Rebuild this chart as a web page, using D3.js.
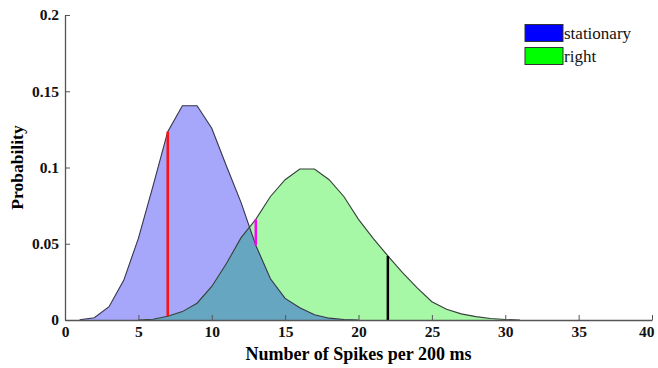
<!DOCTYPE html>
<html>
<head>
<meta charset="utf-8">
<script src="https://cdn.jsdelivr.net/npm/d3@7"></script>
<style>
  body { margin: 0; background: #fff; }
  text { font-family: "Liberation Serif", "Times New Roman", serif; }
</style>
</head>
<body>
<div id="chart"></div>
<script>
// spike counts and probabilities
const stationaryX = [1, 2, 3, 4, 5, 6, 7, 8, 9, 10, 11, 12, 13, 14, 15, 16, 17, 18, 19, 20];
const stationaryP = [0.0002, 0.0015, 0.0087, 0.026, 0.0535, 0.088, 0.1235, 0.1405, 0.1405, 0.1257,
                     0.101, 0.077, 0.049, 0.027, 0.0142, 0.008, 0.0035, 0.0012, 0.0003, 0];
const rightX = [5, 6, 7, 8, 9, 10, 11, 12, 13, 14, 15, 16, 17, 18, 19, 20, 21, 22, 23, 24, 25, 26, 27, 28, 29, 30, 31];
const rightP = [0, 0.0005, 0.0025, 0.0055, 0.011, 0.022, 0.037, 0.054, 0.066, 0.081, 0.092, 0.099, 0.099,
                0.092, 0.081, 0.066, 0.0535, 0.042, 0.031, 0.021, 0.012, 0.007, 0.004, 0.0022, 0.001, 0.0003, 0];
const thresholds = [7, 13, 22];
const thresholdColors = ["#ff1010", "#ff00ff", "#000000"];
const xTicks = [0, 5, 10, 15, 20, 25, 30, 35, 40];
const yTicks = [0, 0.05, 0.1, 0.15, 0.2];
const yTickLabels = ["0", "0.05", "0.1", "0.15", "0.2"];
const legendLabels = ["stationary", "right"];
const legendColors = ["#0000ff", "#00ff00"];

const width = 658, height = 368;

const svg = d3.select("#chart")
  .append("svg")
  .attr("width", width)
  .attr("height", height);

const x = d3.scaleLinear().domain([0, 40]).range([65, 652]);
const y = d3.scaleLinear().domain([0, 0.2]).range([320, 15]);

const stationary = stationaryX.map((k, i) => ({ k: k, p: stationaryP[i] }));
const right = rightX.map((k, i) => ({ k: k, p: rightP[i] }));

const area = d3.area()
  .x(d => x(d.k))
  .y0(y(0))
  .y1(d => y(d.p));
const line = d3.line()
  .x(d => x(d.k))
  .y(d => y(d.p));

// clip to the stationary area so the overlap can get its own colour
svg.append("clipPath")
  .attr("id", "statClip")
  .append("path")
  .attr("d", area(stationary));

svg.append("path").attr("d", area(stationary)).attr("fill", "#a6a6fa");
svg.append("path").attr("d", area(right)).attr("fill", "#a6f7a6");
svg.append("path").attr("d", area(right)).attr("fill", "#67a6c0")
  .attr("clip-path", "url(#statClip)");

svg.append("path").attr("d", line(stationary))
  .attr("fill", "none").attr("stroke", "#35354a").attr("stroke-width", 1.1);
svg.append("path").attr("d", line(right))
  .attr("fill", "none").attr("stroke", "#35403a").attr("stroke-width", 1.1);

// threshold lines: from the lower curve up to the upper curve
const valueAt = (data, k) => {
  const d = data.find(e => e.k === k);
  return d ? d.p : 0;
};
thresholds.forEach((t, i) => {
  const a = valueAt(stationary, t), b = valueAt(right, t);
  svg.append("line")
    .attr("x1", x(t)).attr("x2", x(t))
    .attr("y1", y(Math.min(a, b))).attr("y2", y(Math.max(a, b)))
    .attr("stroke", thresholdColors[i])
    .attr("stroke-width", 2.5);
});

// axes
const xAxis = svg.append("g")
  .attr("transform", "translate(0," + y(0) + ")")
  .call(d3.axisBottom(x).tickValues(xTicks).tickSizeInner(-5).tickSizeOuter(0).tickPadding(6));
const yAxis = svg.append("g")
  .attr("transform", "translate(" + x(0) + ",0)")
  .call(d3.axisLeft(y).tickValues(yTicks).tickFormat((d, i) => yTickLabels[i])
    .tickSizeInner(-5).tickSizeOuter(0).tickPadding(6));

[xAxis, yAxis].forEach(g => {
  g.select(".domain").attr("stroke", "#555").attr("stroke-width", 1.3);
  g.selectAll(".tick line").attr("stroke", "#555");
  g.selectAll(".tick text")
    .attr("fill", "#111")
    .style("font-family", "'Liberation Serif', serif")
    .style("font-size", "15.5px")
    .style("font-weight", "bold");
});
// keep the last label inside the window
xAxis.selectAll(".tick text").filter(d => d === 40).attr("text-anchor", "end").attr("dx", "0.12em");

svg.append("text")
  .attr("x", x(20)).attr("y", 360)
  .attr("text-anchor", "middle")
  .style("font-size", "18px").style("font-weight", "bold")
  .text("Number of Spikes per 200 ms");

svg.append("text")
  .attr("transform", "translate(23," + y(0.1) + ") rotate(-90)")
  .attr("text-anchor", "middle")
  .style("font-size", "17.5px").style("font-weight", "bold")
  .text("Probability");

// legend
const legend = svg.append("g");
legendLabels.forEach((lab, i) => {
  legend.append("rect")
    .attr("x", 525).attr("y", 24.5 + i * 23)
    .attr("width", 38).attr("height", 17)
    .attr("fill", legendColors[i])
    .attr("stroke", "#333").attr("stroke-width", 1);
  legend.append("text")
    .attr("x", 564).attr("y", 39 + i * 23)
    .style("font-size", "17px")
    .attr("fill", "#111")
    .text(lab);
});
</script>
</body>
</html>
